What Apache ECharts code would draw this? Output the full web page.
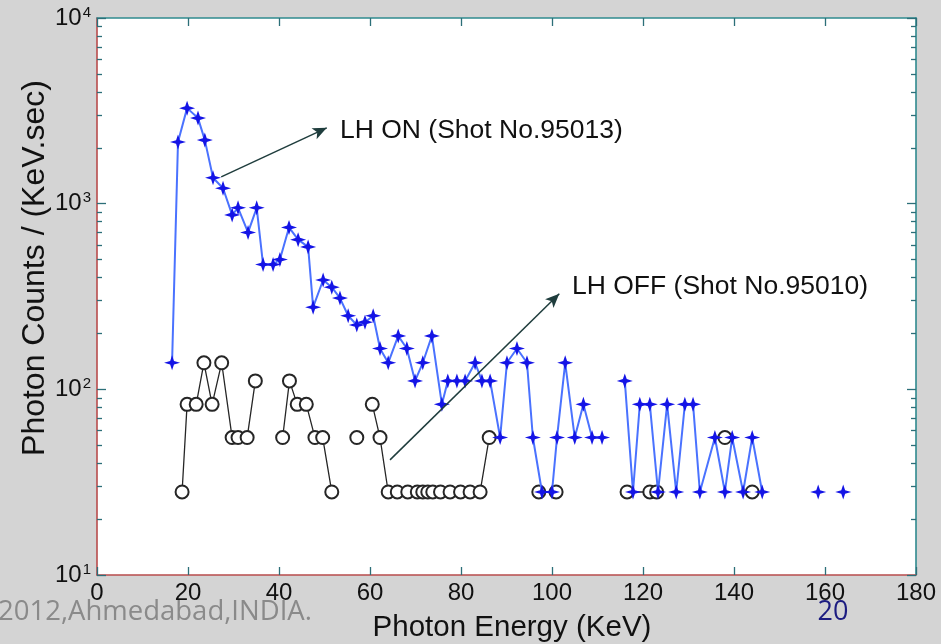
<!DOCTYPE html>
<html><head><meta charset="utf-8">
<script src="https://cdn.jsdelivr.net/npm/echarts@6/dist/echarts.min.js"></script>
<style>html,body{margin:0;padding:0;background:#d4d4d4;} #c{width:941px;height:644px;}</style>
</head><body><div id="c"></div>
<script>
// LH ON (Shot No.95013)
const onEnergy = [16.5,17.8,19.8,22.2,23.7,25.5,27.7,29.7,31.0,33.2,35.1,36.5,38.7,40.2,42.2,44.2,46.4,47.5,49.7,51.6,53.4,55.2,57.1,58.9,60.7,62.2,64.0,66.2,68.1,69.9,71.6,73.6,75.8,77.1,79.1,80.9,83.1,84.6,86.4,88.6,90.1,92.3,94.5,95.8,97.8,100.0,101.1,102.9,105.0,106.9,108.8,111.0,113.5,116.0,117.8,119.3,121.5,123.3,125.3,127.3,129.2,131.0,132.5,135.8,138.0,139.6,142.0,144.0,146.2,152.0,158.5,161.0,164.0];
const onCounts = [139,2150,3270,2890,2200,1380,1210,870,950,700,950,470,470,500,745,640,585,277,388,355,310,249,222,230,249,166,139,194,166,111,139,194,83,111,111,111,139,111,111,55,139,166,139,55,28,28,55,139,55,83,55,55,null,111,28,83,83,28,83,28,83,83,28,55,28,55,28,55,28,null,28,null,28];
// LH OFF (Shot No.95010)
const offEnergy = [18.7,19.8,21.8,23.5,25.3,27.4,29.7,31.0,33.0,34.8,37.8,40.8,42.3,44.0,46.0,47.9,49.6,51.6,54.3,57.1,58.8,60.5,62.2,64.0,66.0,68.3,70.4,71.6,72.7,73.8,75.5,77.6,79.9,82.0,84.2,86.2,91.6,97.1,100.9,108.7,116.5,121.5,123.0,130.5,138.0,141.0,144.0];
const offCounts = [28,83,83,139,83,139,55,55,55,111,null,55,111,83,83,55,55,28,null,55,null,83,55,28,28,28,28,28,28,28,28,28,28,28,28,55,null,28,28,null,28,28,28,null,55,null,28];
// axis ticks
const xMin = 0, xMax = 180, xStep = 20;
const yMajorTicks = [10, 100, 1000, 10000];
const yMinorTicks = [];
[10, 100, 1000].forEach(d => { for (let m = 2; m <= 9; m++) yMinorTicks.push(d * m); });
// annotations (data coordinates of arrow start / tip)
const arrowOn = [[27.3, 1393], [50.5, 2560]];
const arrowOff = [[64.4, 41.7], [101.6, 327]];
const labelOn = 'LH ON (Shot No.95013)';
const labelOff = 'LH OFF (Shot No.95010)';

const pairs = (xs, ys) => xs.map((x, i) => [x, ys[i] == null ? '-' : ys[i]]);
const FONT = 'Liberation Sans, Arial, sans-serif';
const starPath = 'path://M0,-10 L2.4,-2.4 L10,0 L2.4,2.4 L0,10 L-2.4,2.4 L-10,0 L-2.4,-2.4 Z';
const axisRed = '#b84c4c', axisTeal = '#2f8a8f';

const chart = echarts.init(document.getElementById('c'), null, {renderer: 'canvas'});
const yBase = (pos, major, color) => ({
  type: 'log', logBase: 10, min: 10, max: 10000, position: pos,
  axisLine: {show: major, lineStyle: {color: color, width: 1.6}},
  axisTick: {show: true, inside: true, length: major ? 9 : 5, customValues: major ? yMajorTicks : yMinorTicks,
             lineStyle: {color: '#2c6f78', width: 1.3}},
  axisLabel: {show: false}, splitLine: {show: false}, minorSplitLine: {show: false}
});
const yLeft = yBase('left', true, axisRed);
yLeft.axisLabel = {
  show: true, margin: 6,
  formatter: v => '{b|10}{s|' + Math.round(Math.log10(v)) + '}',
  rich: {
    b: {fontSize: 24, fontFamily: FONT, color: '#111', lineHeight: 26},
    s: {fontSize: 15, fontFamily: FONT, color: '#111', lineHeight: 15, verticalAlign: 'top', padding: [0, 0, 0, 1]}
  }
};

chart.setOption({
  animation: false,
  backgroundColor: '#d4d4d4',
  grid: {left: 97, top: 18, right: 25, bottom: 69, show: true, backgroundColor: '#ffffff', borderWidth: 0},
  xAxis: [
    {type: 'value', min: xMin, max: xMax, interval: xStep, position: 'bottom',
     axisLine: {lineStyle: {color: axisRed, width: 1.6}},
     axisTick: {inside: true, length: 8, lineStyle: {color: '#2c6f78', width: 1.3}},
     axisLabel: {margin: 6, fontSize: 24, fontFamily: FONT, color: '#111'},
     splitLine: {show: false}},
    {type: 'value', min: xMin, max: xMax, interval: xStep, position: 'top',
     axisLine: {lineStyle: {color: axisTeal, width: 1.6}},
     axisTick: {inside: true, length: 8, lineStyle: {color: '#2c6f78', width: 1.3}},
     axisLabel: {show: false}, splitLine: {show: false}}
  ],
  yAxis: [yLeft, yBase('left', false, axisRed), yBase('right', true, axisTeal), yBase('right', false, axisTeal)],
  series: [
    {
      name: 'LH OFF', type: 'line', xAxisIndex: 0, yAxisIndex: 0, z: 2,
      data: pairs(offEnergy, offCounts), connectNulls: false,
      symbol: 'emptyCircle', symbolSize: 13,
      lineStyle: {color: '#262626', width: 1.3},
      itemStyle: {color: '#262626', borderColor: '#262626', borderWidth: 1.3},
      markLine: {
        silent: true, symbol: ['none', 'arrow'], symbolSize: [9, 14], label: {show: false},
        lineStyle: {color: '#1f3d3d', width: 1.5, type: 'solid'},
        data: [[{coord: arrowOff[0]}, {coord: arrowOff[1]}]]
      }
    },
    {
      name: 'LH ON', type: 'line', xAxisIndex: 0, yAxisIndex: 0, z: 3,
      data: pairs(onEnergy, onCounts), connectNulls: false,
      symbol: starPath, symbolSize: [16, 15],
      lineStyle: {color: '#4a72ff', width: 2},
      itemStyle: {color: '#1414e6'},
      markLine: {
        silent: true, symbol: ['none', 'arrow'], symbolSize: [9, 14], label: {show: false},
        lineStyle: {color: '#1f3d3d', width: 1.5, type: 'solid'},
        data: [[{coord: arrowOn[0]}, {coord: arrowOn[1]}]]
      }
    }
  ],
  graphic: [
    {type: 'text', left: 340, top: 117, style: {text: labelOn, font: '26.5px ' + FONT, fill: '#111'}},
    {type: 'text', left: 572, top: 273, style: {text: labelOff, font: '26.5px ' + FONT, fill: '#111'}},
    {type: 'text', x: 35, y: 268, rotation: Math.PI / 2,
     style: {text: 'Photon Counts / (KeV.sec)', font: '32px ' + FONT, fill: '#111', align: 'center', verticalAlign: 'middle'}},
    {type: 'text', x: 512, y: 628,
     style: {text: 'Photon Energy (KeV)', font: '29.5px ' + FONT, fill: '#111', align: 'center', verticalAlign: 'middle'}},
    {type: 'text', x: -2, y: 612,
     style: {text: '2012,Ahmedabad,INDIA.', font: '27.5px "Open Sans", sans-serif', fill: '#8a8a8a', align: 'left', verticalAlign: 'middle'}},
    {type: 'text', x: 833, y: 612,
     style: {text: '20', font: '27px "Open Sans", sans-serif', fill: '#1c1c80', align: 'center', verticalAlign: 'middle'}}
  ]
});
</script>
</body></html>
